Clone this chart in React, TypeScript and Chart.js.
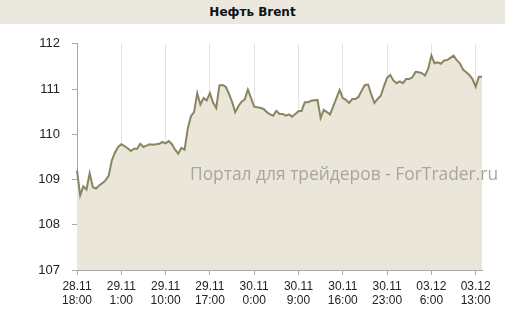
import React, { useEffect, useRef } from "react";
import { Chart, registerables } from "chart.js";

Chart.register(...registerables);

const tickDates = ["28.11", "29.11", "29.11", "29.11", "30.11", "30.11", "30.11", "30.11", "03.12", "03.12"];
const tickTimes = ["18:00", "1:00", "10:00", "17:00", "0:00", "9:00", "16:00", "23:00", "6:00", "13:00"];
const pointsPerTick = 14;

const brent = [
  109.2, 108.65, 108.85, 108.78, 109.14, 108.83, 108.8, 108.87, 108.92, 108.98,
  109.08, 109.42, 109.6, 109.72, 109.78, 109.74, 109.69, 109.63, 109.68, 109.68,
  109.79, 109.72, 109.75, 109.78, 109.77, 109.78, 109.79, 109.83, 109.8, 109.85,
  109.78, 109.66, 109.57, 109.7, 109.66, 110.12, 110.4, 110.49, 110.91, 110.66,
  110.8, 110.75, 110.91, 110.7, 110.58, 111.08, 111.09, 111.05, 110.9, 110.72,
  110.49, 110.62, 110.72, 110.77, 110.99, 110.8, 110.61, 110.6, 110.58, 110.56,
  110.49, 110.44, 110.41, 110.52, 110.45, 110.45, 110.41, 110.44, 110.39, 110.45,
  110.51, 110.52, 110.71, 110.71, 110.74, 110.75, 110.76, 110.36, 110.54, 110.49,
  110.44, 110.62, 110.8, 110.98, 110.8, 110.76, 110.69, 110.78, 110.78, 110.83,
  110.97, 111.09, 111.1, 110.88, 110.69, 110.78, 110.85, 111.06, 111.25, 111.31,
  111.19, 111.13, 111.17, 111.13, 111.22, 111.22, 111.26, 111.38, 111.37, 111.35,
  111.3, 111.45, 111.74, 111.57, 111.59, 111.56, 111.63, 111.64, 111.69, 111.74,
  111.64, 111.57, 111.43, 111.37, 111.31, 111.22, 111.05, 111.27, 111.27,
];

const categories: (string[] | string)[] = brent.map((_, i) =>
  i % pointsPerTick === 0 && tickDates[i / pointsPerTick]
    ? [tickDates[i / pointsPerTick], tickTimes[i / pointsPerTick]]
    : ""
);

const yMin = 107;
const yMax = 112;

export default function App() {
  const ref = useRef<HTMLCanvasElement | null>(null);

  useEffect(() => {
    document.body.style.margin = "0";
    if (!ref.current) return;
    const chart = new Chart(ref.current, {
      type: "line",
      data: {
        labels: categories,
        datasets: [
          {
            data: brent,
            borderColor: "#8a8560",
            borderWidth: 2,
            backgroundColor: "#ebe6da",
            fill: "start",
            pointRadius: 0,
            tension: 0,
          },
        ],
      },
      options: {
        animation: false,
        responsive: false,
        maintainAspectRatio: false,
        layout: { padding: { top: 19, right: 23, left: 0, bottom: 0 } },
        plugins: { legend: { display: false }, tooltip: { enabled: false } },
        scales: {
          x: {
            type: "category",
            offset: false,
            afterFit: (s: any) => {
              s.height = 53;
            },
            border: { color: "#a9a9a9", width: 1 },
            grid: {
              color: "#e6e3dc",
              tickColor: "#a9a9a9",
              tickLength: 5,
              drawOnChartArea: true,
            },
            ticks: {
              autoSkip: false,
              maxRotation: 0,
              minRotation: 0,
              padding: 5,
              color: "#222",
              font: { family: "'Liberation Sans', Arial, sans-serif", size: 12, lineHeight: 1.17 },
              callback: function (this: any, _v: any, i: number) {
                const l = categories[i];
                return l === "" ? null : l;
              },
            },
          },
          y: {
            min: yMin,
            max: yMax,
            afterFit: (s: any) => {
              s.width = 77;
            },
            border: { color: "#a9a9a9", width: 1 },
            grid: {
              drawOnChartArea: false,
              tickColor: "#a9a9a9",
              tickLength: 5,
            },
            ticks: {
              stepSize: 1,
              padding: 12,
              color: "#222",
              font: { family: "'Liberation Sans', Arial, sans-serif", size: 13 },
            },
          },
        },
      },
    });
    return () => chart.destroy();
  }, []);

  return (
    <div style={{ position: "relative", width: 505, height: 323, background: "#fff", overflow: "hidden" }}>
      <div
        style={{
          height: 24,
          background: "#ebe8df",
          textAlign: "center",
          lineHeight: "24px",
          fontFamily: "'DejaVu Sans', sans-serif",
          fontWeight: "bold",
          fontSize: 12,
          color: "#111",
        }}
      >
        Нефть Brent
      </div>
      <canvas ref={ref} width={505} height={299} style={{ display: "block", width: 505, height: 299 }} />
      <div
        style={{
          position: "absolute",
          left: 190,
          top: 161,
          width: 315,
          fontFamily: "'Open Sans', sans-serif",
          fontSize: 17.4,
          color: "#aaa69c",
          whiteSpace: "nowrap",
          pointerEvents: "none",
        }}
      >
        Портал для трейдеров - ForTrader.ru
      </div>
    </div>
  );
}
